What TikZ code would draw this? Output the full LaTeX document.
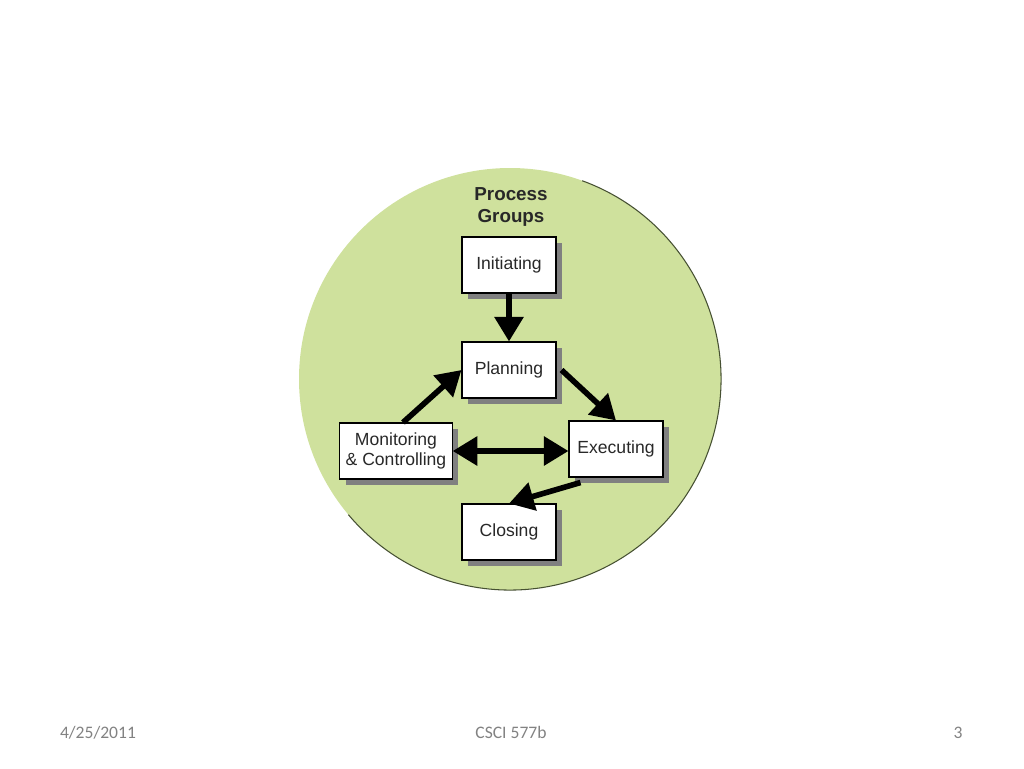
\documentclass[tikz,border=0pt]{standalone}
\usepackage{fontspec}
\setmainfont{Liberation Sans}
\newfontfamily\footfont{Carlito}
\usetikzlibrary{arrows.meta,shadows}
\definecolor{circgreen}{RGB}{207,225,157}
\definecolor{circedge}{RGB}{70,80,50}
\definecolor{boxtext}{RGB}{40,40,40}
\definecolor{foottext}{RGB}{130,130,130}
\tikzset{
  groupbox/.style={draw=black, fill=white, line width=0.6pt, minimum width=1.88cm,
    minimum height=1.12cm, align=center, font=\fontsize{10}{11.5}\selectfont, text=boxtext,
    drop shadow={shadow xshift=0.12cm, shadow yshift=-0.12cm, fill=black!50, opacity=1}},
  flow/.style={line width=3.2pt, -{Triangle[length=14pt, width=16pt]}},
  footnote/.style={font=\footfont\fontsize{10}{12}\selectfont, text=foottext, anchor=base}
}
\begin{document}
\begin{tikzpicture}[x=0.02cm, y=-0.02cm]
	\useasboundingbox (0,0) rectangle (1024,768);
	
	% Circle background
	\fill[circgreen] (510,379) circle (211);
	\draw[circedge, line width=0.6pt] (510,379) ++(-70:211) arc (-70:140:211);
	
	% Title
	\node[font=\bfseries\fontsize{10.7}{12.5}\selectfont, text=boxtext, align=center] (title) at (511,207) {Process\\Groups};
	
	% Process boxes
	\node[groupbox] (init) at (509,265) {Initiating};
	\node[groupbox] (plan) at (509,370) {Planning};
	\node[groupbox, minimum width=2.2cm] (mon) at (396,451) {Monitoring\\\& Controlling};
	\node[groupbox] (exec) at (616,449) {Executing};
	\node[groupbox] (close) at (509,532) {Closing};
	
	% Arrows between groups
	\draw[flow] (init.south) -- (plan.north);
	\draw[flow] ([xshift=0.14cm]mon.north) -- (plan.west);
	\draw[flow] ([xshift=0.1cm]plan.east) -- (exec.north);
	\draw[flow, {Triangle[length=14pt, width=16pt]}-{Triangle[length=14pt, width=16pt]}] (mon.east) -- (mon.east -| exec.west);
	\draw[flow] ([xshift=0.24cm, yshift=-0.1cm]exec.south west) -- (close.north);
	
	% Footer
	\node[footnote] (date) at (98,738) {4/25/2011};
	\node[footnote] (course) at (511,738) {CSCI 577b};
	\node[footnote] (page) at (958,738) {3};
\end{tikzpicture}
\end{document}
